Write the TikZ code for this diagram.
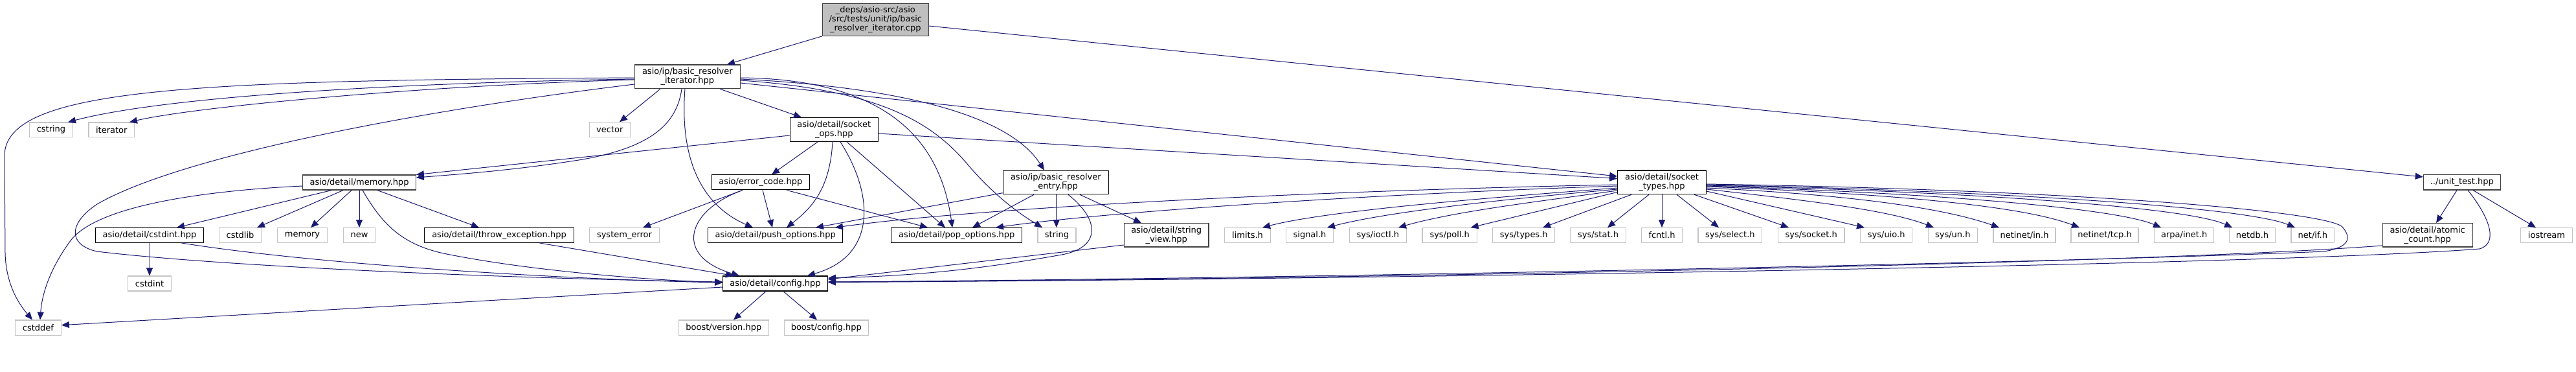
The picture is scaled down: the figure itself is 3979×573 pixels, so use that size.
\documentclass[tikz,border=0pt]{standalone}
\usepackage{fontspec}
\setmainfont{DejaVu Sans}
\usetikzlibrary{arrows.meta}
\definecolor{edgecol}{HTML}{191970}
\definecolor{rootfill}{HTML}{BFBFBF}
\definecolor{sysborder}{HTML}{C4C4C4}
\definecolor{darkborder}{HTML}{404040}
\tikzset{
  edge/.style={draw=edgecol, line width=1pt, -{Triangle[length=12pt,width=10pt]}},
  dnode/.style={draw=black, line width=1.2pt, fill=white, inner sep=0pt, align=center,
    font=\fontsize{13}{14}\selectfont},
  gnode/.style={dnode, draw=darkborder},
  snode/.style={dnode, draw=sysborder},
  rnode/.style={dnode, draw=darkborder, fill=rootfill},
}
\begin{document}
\begin{tikzpicture}[x=1pt,y=-1pt]
\useasboundingbox (0,0) rectangle (3979,573);
% ---------- nodes ----------
\node[rnode, minimum width=164pt, minimum height=50pt] (root) at (1352.3,30.3) {\_deps/asio-src/asio\\/src/tests/unit/ip/basic\\\_resolver\_iterator.cpp};
\node[gnode, minimum width=163pt, minimum height=36.7pt] (bri) at (1061.8,118.3) {asio/ip/basic\_resolver\\\_iterator.hpp};
\node[snode, minimum width=66.6pt, minimum height=22.3pt] (cstring) at (79,200.2) {cstring};
\node[snode, minimum width=70.7pt, minimum height=22.3pt] (iterator) at (172.3,200.2) {iterator};
\node[snode, minimum width=63pt, minimum height=22.3pt] (vector) at (941.8,200) {vector};
\node[dnode, minimum width=136pt, minimum height=36.7pt] (sops) at (1288.3,200) {asio/detail/socket\\\_ops.hpp};
\node[gnode, minimum width=174.6pt, minimum height=23pt] (memhpp) at (555,281.5) {asio/detail/memory.hpp};
\node[dnode, minimum width=151pt, minimum height=23pt] (errc) at (1174.8,281.3) {asio/error\_code.hpp};
\node[dnode, minimum width=163pt, minimum height=36.4pt] (bre) at (1630.8,281.5) {asio/ip/basic\_resolver\\\_entry.hpp};
\node[dnode, minimum width=136.6pt, minimum height=36.7pt] (stypes) at (2567,281.3) {asio/detail/socket\\\_types.hpp};
\node[gnode, minimum width=119pt, minimum height=23.5pt] (unitt) at (3802.8,281.2) {../unit\_test.hpp};
% row 4
\node[dnode, minimum width=166.6pt, minimum height=22.6pt] (cstdinthpp) at (231,363) {asio/detail/cstdint.hpp};
\node[snode, minimum width=65.4pt, minimum height=22.6pt] (cstdlib) at (371,363) {cstdlib};
\node[snode, minimum width=77.4pt, minimum height=22.6pt] (memory) at (467,363) {memory};
\node[snode, minimum width=49.4pt, minimum height=22.6pt] (newh) at (555,363) {new};
\node[dnode, minimum width=230.6pt, minimum height=22.6pt] (throwh) at (771,363) {asio/detail/throw\_exception.hpp};
\node[snode, minimum width=108.4pt, minimum height=22.6pt] (syserr) at (964.5,363) {system\_error};
\node[dnode, minimum width=208pt, minimum height=22.6pt] (push) at (1197.7,363) {asio/detail/push\_options.hpp};
\node[dnode, minimum width=202pt, minimum height=22.6pt] (pop) at (1477.7,363) {asio/detail/pop\_options.hpp};
\node[snode, minimum width=59pt, minimum height=22.6pt] (stringh) at (1632.5,363) {string};
\node[gnode, minimum width=130.7pt, minimum height=36.3pt] (strview) at (1801.7,362.8) {asio/detail/string\\\_view.hpp};
\node[snode, minimum width=70.6pt, minimum height=22.6pt] (limits) at (1927,363) {limits.h};
\node[snode, minimum width=72.6pt, minimum height=22.6pt] (signalh) at (2023,363) {signal.h};
\node[snode, minimum width=88pt, minimum height=22.6pt] (ioctl) at (2128.3,363) {sys/ioctl.h};
\node[snode, minimum width=84.3pt, minimum height=22.6pt] (poll) at (2239.2,363) {sys/poll.h};
\node[snode, minimum width=96pt, minimum height=22.6pt] (systypes) at (2353.7,363) {sys/types.h};
\node[snode, minimum width=85.6pt, minimum height=22.6pt] (sysstat) at (2468.5,363) {sys/stat.h};
\node[snode, minimum width=62.6pt, minimum height=22.6pt] (fcntl) at (2567,363) {fcntl.h};
\node[snode, minimum width=98.7pt, minimum height=22.6pt] (select) at (2672.3,363) {sys/select.h};
\node[snode, minimum width=102.7pt, minimum height=22.6pt] (socketh) at (2797.7,363) {sys/socket.h};
\node[snode, minimum width=80pt, minimum height=22.6pt] (uio) at (2913.7,363) {sys/uio.h};
\node[snode, minimum width=76pt, minimum height=22.6pt] (un) at (3016.3,363) {sys/un.h};
\node[snode, minimum width=96pt, minimum height=22.6pt] (netin) at (3127,363) {netinet/in.h};
\node[snode, minimum width=104pt, minimum height=22.6pt] (nettcp) at (3251,363) {netinet/tcp.h};
\node[snode, minimum width=92pt, minimum height=22.6pt] (arpa) at (3373.7,363) {arpa/inet.h};
\node[snode, minimum width=70.6pt, minimum height=22.6pt] (netdb) at (3479,363) {netdb.h};
\node[snode, minimum width=66.7pt, minimum height=22.6pt] (netif) at (3572.3,363) {net/if.h};
\node[gnode, minimum width=138.7pt, minimum height=36.3pt] (atomic) at (3749.7,362.8) {asio/detail/atomic\\\_count.hpp};
\node[snode, minimum width=80.4pt, minimum height=22.6pt] (iostream) at (3933.5,363) {iostream};
% row 5/6
\node[dnode, minimum width=161.6pt, minimum height=23pt] (config) at (1197.5,437.5) {asio/detail/config.hpp};
\node[snode, minimum width=66.6pt, minimum height=23pt] (cstdint) at (231,437.5) {cstdint};
\node[snode, minimum width=70.6pt, minimum height=23.3pt] (cstddef) at (59,505.7) {cstddef};
\node[snode, minimum width=139pt, minimum height=23.3pt] (bversion) at (1117.8,505.7) {boost/version.hpp};
\node[snode, minimum width=130pt, minimum height=23.3pt] (bconfig) at (1276.3,505.7) {boost/config.hpp};
% ---------- edges ----------
\draw[edge] (root.south west) -- (bri.north -| 1123,0);
\draw[edge] (root.east |- 0,40) -- (unitt.west |- 0,273);
% from basic_resolver_iterator
\draw[edge] (bri.west |- 0,122) .. controls (600,128) and (250,150) .. (cstring.north -| 105,0);
\draw[edge] (bri.west |- 0,123) .. controls (650,132) and (300,165) .. (iterator.north -| 200,0);
\draw[edge] (bri.west |- 0,120) .. controls (300,124) and (8,135) .. (7,240) -- (8,390) .. controls (9,440) and (30,470) .. (cstddef.north -| 50,0);
\draw[edge] (bri.south -| 1020,0) -- (vector.north -| 957,0);
\draw[edge] (bri.south -| 1053,0) .. controls (1045,195) and (1000,228) .. (900,246) .. controls (800,262) and (720,268) .. (memhpp.east |- 0,274);
\draw[edge] (bri.west |- 0,130) .. controls (650,170) and (280,240) .. (150,315) .. controls (105,345) and (105,378) .. (150,388) .. controls (350,412) and (800,430) .. (config.west |- 0,435);
\draw[edge] (bri.south -| 1058,0) .. controls (1050,240) and (1080,315) .. (push.north -| 1163,0);
\draw[edge] (bri.south -| 1112,0) -- (sops.north -| 1238,0);
\draw[edge] (bri.east |- 0,128) -- (stypes.west |- 0,272);
\draw[edge] (bri.east |- 0,122) .. controls (1400,135) and (1560,180) .. (bre.north -| 1613,0);
\draw[edge] (bri.east |- 0,124) .. controls (1380,140) and (1450,200) .. (1500,260) .. controls (1540,305) and (1575,330) .. (stringh.north -| 1610,0);
\draw[edge] (bri.east |- 0,120) .. controls (1350,122) and (1450,200) .. (pop.north -| 1471,0);
% from socket_ops
\draw[edge] (sops.east |- 0,206) -- (stypes.west |- 0,275.5);
\draw[edge] (sops.west |- 0,209) -- (memhpp.east |- 0,269.5);
\draw[edge] (sops.south -| 1263,0) -- (errc.north -| 1192,0);
\draw[edge] (sops.south -| 1286,0) .. controls (1282,290) and (1255,320) .. (push.north -| 1215,0);
\draw[edge] (sops.south -| 1298,0) .. controls (1350,300) and (1355,395) .. (config.north -| 1247,0);
\draw[edge] (sops.south -| 1308,0) -- (pop.north -| 1460,0);
% from error_code
\draw[edge] (errc.south -| 1147,0) -- (syserr.north -| 993,0);
\draw[edge] (errc.south -| 1178,0) -- (push.north -| 1193,0);
\draw[edge] (errc.south -| 1215,0) -- (pop.north -| 1433,0);
\draw[edge] (errc.south -| 1147,0) .. controls (1060,325) and (1040,395) .. (config.north -| 1142,0);
% from basic_resolver_entry
\draw[edge] (bre.west |- 0,297.7) -- (push.north -| 1260,0);
\draw[edge] (bre.south -| 1597,0) -- (pop.north -| 1502,0);
\draw[edge] (bre.south -| 1631.7,0) -- (stringh.north -| 1631.7,0);
\draw[edge] (bre.south -| 1668,0) -- (strview.north -| 1763,0);
\draw[edge] (bre.south -| 1650,0) .. controls (1700,340) and (1700,382) .. (1640,393) .. controls (1500,418) and (1400,426) .. (config.east |- 0,429);
\draw[edge] (strview.west |- 0,378) -- (config.east |- 0,431);
% from socket_types
\draw[edge] (stypes.west |- 0,285) .. controls (2000,295) and (1500,322) .. (push.north -| 1290,0);
\draw[edge] (stypes.west |- 0,287) .. controls (2100,300) and (1700,328) .. (pop.north -| 1538,0);
\draw[edge] (stypes.west |- 0,290) .. controls (2300,305) and (2050,325) .. (limits.north -| 1950,0);
\draw[edge] (stypes.west |- 0,292) .. controls (2350,305) and (2150,325) .. (signalh.north -| 2050,0);
\draw[edge] (stypes.west |- 0,294) .. controls (2400,308) and (2250,325) .. (ioctl.north -| 2160,0);
\draw[edge] (stypes.west |- 0,296.5) -- (poll.north -| 2271.7,0);
\draw[edge] (stypes.south -| 2520,0) -- (systypes.north -| 2383,0);
\draw[edge] (stypes.south -| 2547,0) -- (sysstat.north -| 2483,0);
\draw[edge] (stypes.south -| 2567,0) -- (fcntl.north -| 2567,0);
\draw[edge] (stypes.south -| 2590,0) -- (select.north -| 2655,0);
\draw[edge] (stypes.south -| 2617,0) -- (socketh.north -| 2763,0);
\draw[edge] (stypes.east |- 0,295) -- (uio.north -| 2880,0);
\draw[edge] (stypes.east |- 0,292) .. controls (2800,310) and (2920,325) .. (un.north -| 2987,0);
\draw[edge] (stypes.east |- 0,290) .. controls (2850,300) and (3000,320) .. (netin.north -| 3088,0);
\draw[edge] (stypes.east |- 0,288) .. controls (2950,300) and (3130,320) .. (nettcp.north -| 3212,0);
\draw[edge] (stypes.east |- 0,287) .. controls (3000,298) and (3270,322) .. (arpa.north -| 3338,0);
\draw[edge] (stypes.east |- 0,286) .. controls (3050,296) and (3380,320) .. (netdb.north -| 3448,0);
\draw[edge] (stypes.east |- 0,285) .. controls (3100,295) and (3470,320) .. (netif.north -| 3545,0);
\draw[edge] (stypes.east |- 0,284) .. controls (3200,293) and (3590,325) .. (3618,350) .. controls (3635,370) and (3625,382) .. (3590,388) .. controls (3200,405) and (2000,430) .. (config.east |- 0,435);
% from unit_test and atomic_count
\draw[edge] (unitt.south -| 3795,0) -- (atomic.north -| 3763,0);
\draw[edge] (unitt.south -| 3820,0) -- (iostream.north -| 3917,0);
\draw[edge] (unitt.south -| 3812,0) .. controls (3845,335) and (3860,375) .. (3830,384) .. controls (3500,410) and (2000,432) .. (config.east |- 0,435.5);
\draw[edge] (atomic.west |- 0,379) .. controls (3300,408) and (2000,432) .. (config.east |- 0,435);
% from memory.hpp
\draw[edge] (memhpp.west |- 0,287) .. controls (300,295) and (150,320) .. (110,370) .. controls (80,410) and (65,450) .. (cstddef.north -| 62,0);
\draw[edge] (memhpp.south -| 512,0) -- (cstdinthpp.north -| 273,0);
\draw[edge] (memhpp.south -| 530,0) -- (cstdlib.north -| 397,0);
\draw[edge] (memhpp.south -| 543,0) -- (memory.north -| 480,0);
\draw[edge] (memhpp.south -| 555,0) -- (newh.north -| 555,0);
\draw[edge] (memhpp.south -| 583,0) -- (throwh.north -| 740,0);
\draw[edge] (memhpp.south -| 560,0) .. controls (590,345) and (620,378) .. (690,392) .. controls (820,418) and (1000,432) .. (config.west |- 0,436);
% others
\draw[edge] (cstdinthpp) -- (cstdint);
\draw[edge] (cstdinthpp.south -| 280,0) .. controls (500,410) and (900,432) .. (config.west |- 0,436);
\draw[edge] (throwh.south -| 833,0) -- (config.north -| 1133,0);
\draw[edge] (config.west |- 0,443) -- (cstddef.east |- 0,501.7);
\draw[edge] (config.south -| 1183,0) -- (bversion.north -| 1133,0);
\draw[edge] (config.south -| 1210,0) -- (bconfig.north -| 1262,0);
\end{tikzpicture}
\end{document}
